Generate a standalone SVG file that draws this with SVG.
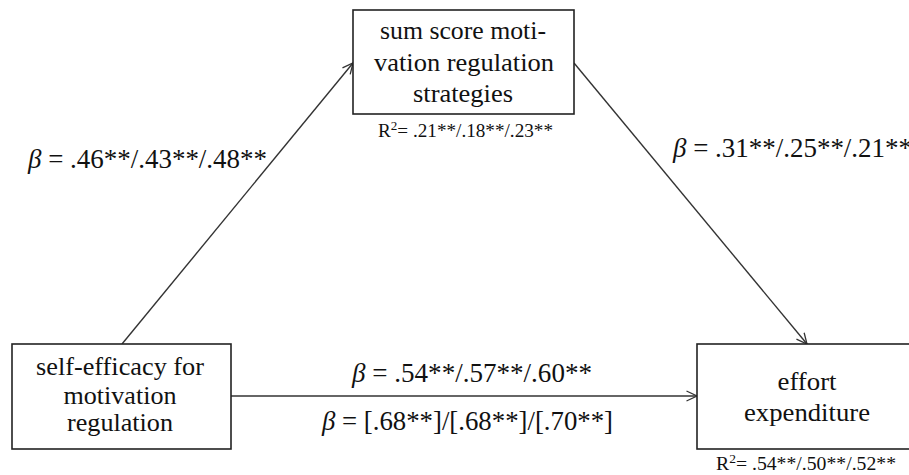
<svg xmlns="http://www.w3.org/2000/svg" width="909" height="475" viewBox="0 0 909 475">
<defs>
<style>
text{font-family:'Liberation Serif','Times New Roman',Times,'DejaVu Serif',serif;fill:#111}
.box{fill:#fff;stroke:#222;stroke-width:1.6}
.lbl{font-size:26px;text-anchor:middle}
.beta{font-size:27px}
.r2{font-size:19px}
.b{font-style:italic}
.edge{stroke:#333;stroke-width:1.4;fill:none;marker-end:url(#arr)}
</style>
<marker id="arr" viewBox="0 0 12 12" refX="11.5" refY="6" markerWidth="12" markerHeight="12" markerUnits="userSpaceOnUse" orient="auto">
<path d="M1,1 L11.5,6 L1,11" fill="none" stroke="#333" stroke-width="1.3"/>
</marker>
</defs>
<rect width="909" height="475" fill="#fff"/>
<g id="connectors">
<line class="edge" x1="122" y1="344" x2="353" y2="63"/>
<line class="edge" x1="574" y1="63" x2="807" y2="344"/>
<line class="edge" x1="231" y1="396" x2="697" y2="396"/>
</g>
<g id="node-strategies">
<rect class="box" x="353" y="10" width="221" height="104"/>
<text class="lbl" x="463" y="39" textLength="166" lengthAdjust="spacingAndGlyphs">sum score moti-</text>
<text class="lbl" x="464" y="71" textLength="180" lengthAdjust="spacingAndGlyphs">vation regulation</text>
<text class="lbl" x="463" y="102" textLength="100" lengthAdjust="spacingAndGlyphs">strategies</text>
<text class="r2" x="378" y="137" textLength="175" lengthAdjust="spacingAndGlyphs">R<tspan font-size="13" dy="-7">2</tspan><tspan dy="7">= .21**/.18**/.23**</tspan></text>
</g>
<g id="node-selfefficacy">
<rect class="box" x="12" y="344" width="219" height="105"/>
<text class="lbl" x="120" y="375" textLength="168" lengthAdjust="spacingAndGlyphs">self-efficacy for</text>
<text class="lbl" x="120" y="404" textLength="113" lengthAdjust="spacingAndGlyphs">motivation</text>
<text class="lbl" x="120" y="431" textLength="106" lengthAdjust="spacingAndGlyphs">regulation</text>
</g>
<g id="node-effort">
<rect class="box" x="697" y="344" width="222" height="105"/>
<text class="lbl" x="807" y="390" textLength="59" lengthAdjust="spacingAndGlyphs">effort</text>
<text class="lbl" x="807" y="421" textLength="126" lengthAdjust="spacingAndGlyphs">expenditure</text>
<text class="r2" x="716" y="470" textLength="180" lengthAdjust="spacingAndGlyphs">R<tspan font-size="13" dy="-7">2</tspan><tspan dy="7">= .54**/.50**/.52**</tspan></text>
</g>
<g id="edge-labels">
<text class="beta" x="28" y="168" textLength="239" lengthAdjust="spacingAndGlyphs"><tspan class="b">β</tspan> = .46**/.43**/.48**</text>
<text class="beta" x="673" y="157" textLength="239" lengthAdjust="spacingAndGlyphs"><tspan class="b">β</tspan> = .31**/.25**/.21**</text>
<text class="beta" x="352" y="382" textLength="240" lengthAdjust="spacingAndGlyphs"><tspan class="b">β</tspan> = .54**/.57**/.60**</text>
<text class="beta" x="322" y="430" textLength="291" lengthAdjust="spacingAndGlyphs"><tspan class="b">β</tspan> = [.68**]/[.68**]/[.70**]</text>
</g>
</svg>
